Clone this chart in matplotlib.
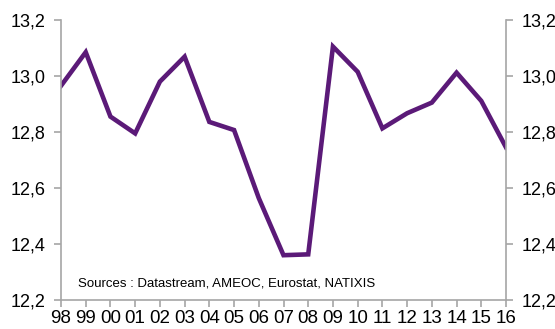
import matplotlib
matplotlib.use('Agg')
import matplotlib.pyplot as plt
from matplotlib.ticker import FuncFormatter

years = ['98', '99', '00', '01', '02', '03', '04', '05', '06', '07',
         '08', '09', '10', '11', '12', '13', '14', '15', '16']
values = [12.965, 13.085, 12.855, 12.795, 12.98, 13.069, 12.836, 12.807, 12.564, 12.36,
          12.363, 13.105, 13.015, 12.813, 12.867, 12.905, 13.012, 12.911, 12.745]
y_ticks = [12.2, 12.4, 12.6, 12.8, 13.0, 13.2]
source = 'Sources : Datastream, AMEOC, Eurostat, NATIXIS'

plt.rcParams['font.family'] = ['Liberation Sans', 'DejaVu Sans']

fig = plt.figure(figsize=(5.55, 3.29), dpi=100)
ax = fig.add_axes([61 / 555, 1 - 300 / 329, 445 / 555, 280 / 329])

x = list(range(len(years)))
ax.plot(x, values, color='#5B1A78', linewidth=3.3, solid_joinstyle='miter')

ax.set_xlim(0, len(years) - 1)
ax.set_ylim(12.2, 13.2)
ax.set_xticks(x)
ax.set_xticklabels(years)
ax.set_yticks(y_ticks)
fmt = FuncFormatter(lambda v, p: ('%.1f' % v).replace('.', ','))
ax.yaxis.set_major_formatter(fmt)

grey = '#A6A6A6'
for s in ['left', 'right', 'bottom']:
    ax.spines[s].set_color(grey)
    ax.spines[s].set_linewidth(1.2)
ax.spines['top'].set_visible(False)

ax.tick_params(axis='x', direction='out', length=5, width=1.2, color=grey,
               labelsize=13.5, pad=2)
ax.tick_params(axis='y', direction='out', length=5, width=1.2, color=grey,
               labelsize=13, pad=6, left=True, right=True,
               labelleft=True, labelright=True)

# source note, placed in pixel terms of the figure
fig.text(78 / 555, 1 - 283 / 329, source, fontsize=9.5, va='center', ha='left')

fig.savefig('out.png', dpi=100)
